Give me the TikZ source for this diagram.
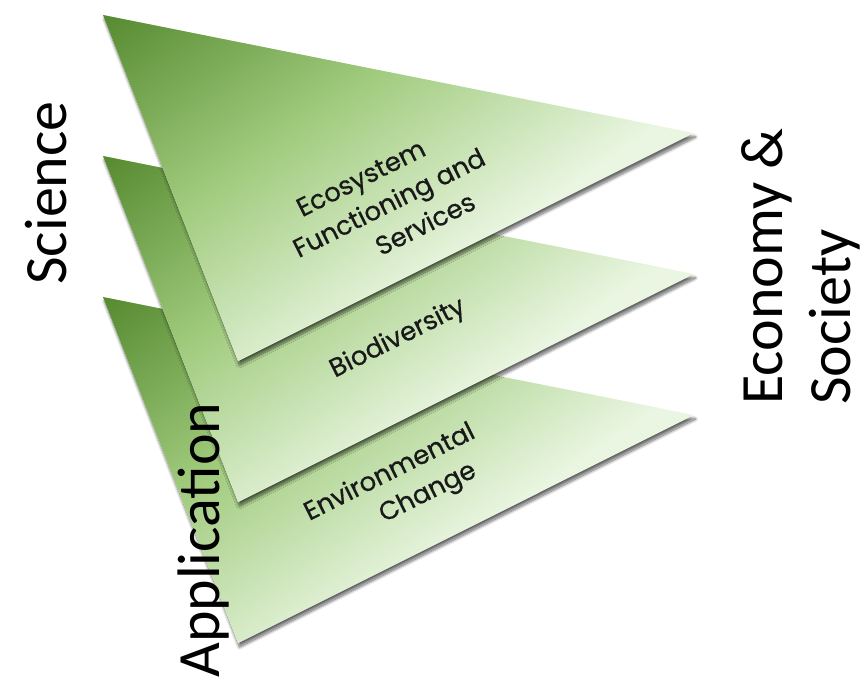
\documentclass[tikz,border=0pt]{standalone}
\usepackage{fontspec}
\setmainfont{Carlito}
\newfontfamily\labelfont[FakeBold=0.6]{Poppins}
\usetikzlibrary{calc,shadows.blur}
\definecolor{gdark}{RGB}{84,136,46}
\definecolor{gmid}{RGB}{160,203,125}
\definecolor{glight}{RGB}{234,246,226}
\begin{document}
\begin{tikzpicture}[x=1pt,y=-1pt,
  outer/.style={inner sep=0pt, font=\fontsize{60}{68}\selectfont, text=black},
  inner/.style={inner sep=0pt, font=\labelfont\fontsize{26}{35}\selectfont, align=center, rotate=26.6, text=black!90},
  tshadow/.style={blur shadow={shadow xshift=1.5pt, shadow yshift=-4pt, shadow blur radius=3pt, shadow opacity=60, shadow blur steps=10}}
]
\useasboundingbox (0,0) rectangle (866,679);
\foreach \n/\dy in {3/282,2/141,1/0}{
  \coordinate (L\n) at (103,15+\dy);
  \coordinate (R\n) at (694,133+\dy);
  \coordinate (B\n) at (238,361+\dy);
  \path[tshadow] (L\n) -- (R\n) -- (B\n) -- cycle;
  \begin{scope}
    \clip (L\n) -- (R\n) -- (B\n) -- cycle;
    \fill[glight] (L\n) -- (R\n) -- (B\n) -- cycle;
    \begin{scope}[transform canvas={rotate around={-55:(L\n)}}]
      \shade[left color=gdark, right color=glight, middle color=gmid] ($(L\n)+(-5,-800)$) rectangle ($(L\n)+(410,800)$);
    \end{scope}
  \end{scope}
}
\node[inner] (eco) at (389,203) {Ecosystem\hspace*{28pt}\\Functioning and\\\hspace*{46pt}Services};
\node[inner] (bio) at (398,339) {Biodiversity};
\node[inner] (env) at (398,489) {Environmental\\\hspace*{50pt}Change};
\node[outer, rotate=90] (sci) at (46,193) {Science};
\node[outer, rotate=90] (app) at (203,540) {Application};
\node[outer, rotate=90, align=left, anchor=north west] (econ) at (741,405) {Economy \&\\Society};
\end{tikzpicture}
\end{document}
